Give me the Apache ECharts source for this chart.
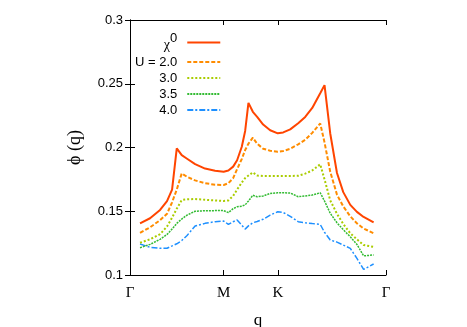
<!DOCTYPE html>
<html><head><meta charset="utf-8">
<script src="https://cdn.jsdelivr.net/npm/echarts@6/dist/echarts.min.js"></script>
<style>html,body{margin:0;padding:0;background:#fff}#c{width:467px;height:327px}</style>
</head><body><div id="c"></div>
<script>
// path coordinate: Γ=0, M=1, K=1+1/√3, Γ=1+3/√3
const tickPos = [0, 1, 1.5774, 2.7321];
const tickLabels = ['Γ', 'M', 'K', 'Γ'];
const yTicks = [0.1, 0.15, 0.2, 0.25, 0.3];
const q = [0.107,0.214,0.321,0.395,0.449,0.499,0.552,0.609,0.695,0.801,0.908,1.0,1.050,1.101,1.143,1.193,1.229,1.264,1.311,1.357,1.421,1.496,1.577,1.635,1.710,1.795,1.870,1.945,2.030,2.076,2.137,2.209,2.276,2.351,2.422,2.493,2.600];
const chi0 = [0.1405,0.1445,0.151,0.158,0.167,0.1993,0.194,0.1912,0.187,0.1835,0.1818,0.181,0.182,0.185,0.190,0.2006,0.213,0.235,0.228,0.224,0.218,0.2135,0.2111,0.2118,0.2142,0.219,0.224,0.231,0.2425,0.2489,0.211,0.180,0.165,0.155,0.1495,0.1455,0.1413];
const u20 = [0.133,0.1374,0.143,0.148,0.157,0.167,0.1797,0.177,0.1742,0.172,0.1708,0.1706,0.172,0.176,0.183,0.191,0.198,0.203,0.2077,0.203,0.199,0.1975,0.1967,0.1972,0.199,0.2025,0.206,0.2115,0.2189,0.204,0.181,0.163,0.1538,0.146,0.1405,0.1365,0.1327];
const u30 = [0.1253,0.128,0.132,0.138,0.145,0.152,0.1588,0.1594,0.1596,0.159,0.1585,0.158,0.1585,0.162,0.167,0.1725,0.176,0.178,0.1805,0.178,0.1776,0.1776,0.1776,0.1776,0.1777,0.1778,0.1795,0.182,0.1868,0.175,0.1585,0.148,0.140,0.1327,0.128,0.1235,0.122];
const u35 = [0.1214,0.124,0.128,0.1318,0.136,0.1405,0.1439,0.147,0.150,0.1504,0.1505,0.1505,0.149,0.152,0.1535,0.154,0.155,0.158,0.1625,0.1614,0.162,0.164,0.1645,0.1645,0.1643,0.1614,0.162,0.1627,0.1645,0.158,0.1484,0.141,0.1355,0.130,0.124,0.115,0.1157];
const u40 = [0.1243,0.1217,0.1209,0.121,0.1228,0.1245,0.127,0.131,0.1384,0.1405,0.1418,0.1423,0.1397,0.1418,0.1431,0.139,0.136,0.1385,0.141,0.142,0.1437,0.147,0.1496,0.149,0.146,0.1418,0.141,0.1403,0.1397,0.1335,0.1274,0.1258,0.1235,0.1209,0.113,0.1044,0.1086];
const seriesNames = ['chi0', 'U = 2.0', '3.0', '3.5', '4.0'];

const pair = arr => arr.map((v, i) => [q[i], v]);
const sans = 'Liberation Sans, Arial, sans-serif';
const serif = 'Liberation Serif, Times New Roman, serif';

const styles = [
  {color: '#ff4500', width: 2, type: 'solid'},
  {color: '#ff8c00', width: 2, type: [4, 2]},
  {color: '#aacc00', width: 2, type: [2, 2]},
  {color: '#33bb33', width: 1.5, type: [2, 1]},
  {color: '#1e90ff', width: 1.5, type: [6, 2, 2, 2]}
];
const datasets = [chi0, u20, u30, u35, u40];

const chart = echarts.init(document.getElementById('c'));
const axisCommon = {
  axisLine: {lineStyle: {color: '#000', width: 1}},
  splitLine: {show: false}
};
chart.setOption({
  animation: false,
  backgroundColor: '#fff',
  grid: {left: 130, right: 81, top: 20, bottom: 52, outerBoundsMode: 'none', containLabel: false},
  legend: {
    orient: 'vertical', align: 'right', left: 130, top: 27,
    itemWidth: 33, itemHeight: 14, itemGap: 3,
    itemStyle: {opacity: 0},
    data: seriesNames,
    formatter: n => n === 'chi0' ? '{chi|χ}{sup|0}' : '{t|' + n + '}',
    textStyle: {
      fontFamily: sans, fontSize: 13, color: '#000',
      rich: {
        t: {width: 52, align: 'right', fontFamily: sans, fontSize: 13, padding: [0, 5, 0, 0]},
        chi: {width: 46, align: 'right', fontFamily: serif, fontSize: 14, padding: [6, 0, 0, 0]},
        sup: {fontFamily: sans, fontSize: 13, padding: [0, 5, 8, 0]}
      }
    }
  },
  xAxis: [
    Object.assign({}, axisCommon, {
      type: 'value', min: 0, max: 2.7321,
      name: 'q', nameLocation: 'middle', nameGap: 37,
      nameTextStyle: {fontFamily: serif, fontSize: 17, color: '#000'},
      axisTick: {inside: true, length: 5, customValues: tickPos, lineStyle: {color: '#000'}},
      axisLabel: {customValues: tickPos, margin: 11, fontFamily: serif, fontSize: 15, color: '#000',
        formatter: v => tickLabels[tickPos.reduce((b, t, i) => Math.abs(t - v) < Math.abs(tickPos[b] - v) ? i : b, 0)]}
    }),
    Object.assign({}, axisCommon, {
      type: 'value', min: 0, max: 2.7321, position: 'top',
      axisTick: {inside: true, length: 5, customValues: tickPos, lineStyle: {color: '#000'}},
      axisLabel: {show: false}
    })
  ],
  yAxis: [
    Object.assign({}, axisCommon, {
      type: 'value', min: 0.1, max: 0.3, interval: 0.05,
      name: 'ϕ (q)', nameLocation: 'middle', nameGap: 46,
      nameTextStyle: {fontFamily: serif, fontSize: 18, color: '#000'},
      axisTick: {inside: true, length: 5, lineStyle: {color: '#000'}},
      axisLabel: {margin: 7, fontFamily: sans, fontSize: 13, color: '#000',
        formatter: v => String(+v.toFixed(2))}
    }),
    Object.assign({}, axisCommon, {
      type: 'value', min: 0.1, max: 0.3, interval: 0.05, position: 'right',
      axisTick: {inside: true, length: 5, lineStyle: {color: '#000'}},
      axisLabel: {show: false}
    })
  ],
  series: datasets.map((d, i) => ({
    name: seriesNames[i], type: 'line', data: pair(d),
    symbol: 'none', showSymbol: false,
    itemStyle: {color: styles[i].color},
    lineStyle: {color: styles[i].color, width: styles[i].width, type: styles[i].type},
    z: 10 - i
  }))
});
</script></body></html>
